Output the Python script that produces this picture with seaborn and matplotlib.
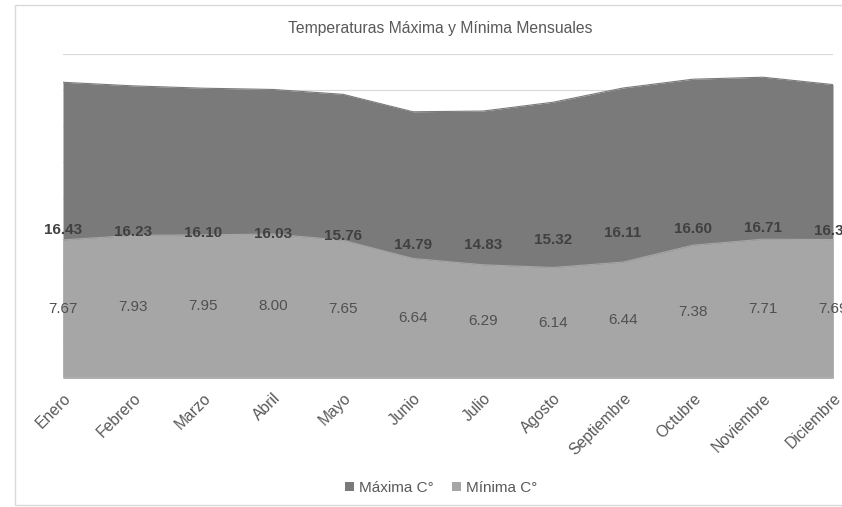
import matplotlib
matplotlib.use("Agg")
import matplotlib.pyplot as plt
from matplotlib.patches import Patch, Rectangle
import numpy as np
import pandas as pd
import seaborn as sns

meses = ["Enero", "Febrero", "Marzo", "Abril", "Mayo", "Junio", "Julio",
         "Agosto", "Septiembre", "Octubre", "Noviembre", "Diciembre"]
maxima = [16.43, 16.23, 16.10, 16.03, 15.76, 14.79, 14.83, 15.32, 16.11, 16.60, 16.71, 16.30]
minima = [7.67, 7.93, 7.95, 8.00, 7.65, 6.64, 6.29, 6.14, 6.44, 7.38, 7.71, 7.69]

titulo = "Temperaturas Máxima y Mínima Mensuales"
serie_max = "Máxima C°"
serie_min = "Mínima C°"

col_max = "#7a7a7a"
col_min = "#a6a6a6"
col_txt = "#595959"

sns.set_theme(style="white")
plt.rcParams["font.family"] = ["Liberation Sans", "DejaVu Sans"]

df = pd.DataFrame({"mes": meses, "idx": np.arange(len(meses)),
                   serie_max: maxima, serie_min: minima})

fig = plt.figure(figsize=(8.42, 5.07), dpi=100)
ax = fig.add_axes([63 / 842, 1 - 378 / 507, (833 - 63) / 842, (378 - 54) / 507])

# chart border
fig.patches.append(Rectangle((15 / 842, 2 / 507), 1.0, 500 / 507, transform=fig.transFigure,
                             fill=False, edgecolor="#d9d9d9", linewidth=1.0, zorder=0))

# horizontal gridlines
for g in np.arange(2, 19, 2):
    ax.axhline(g, color="#d9d9d9", linewidth=0.8, zorder=0)

ax.fill_between(df["idx"], 0, df[serie_max], color=col_max, linewidth=0, zorder=1)
sns.lineplot(data=df, x="idx", y=serie_max, ax=ax, color=col_max, linewidth=0.8, zorder=1)
ax.fill_between(df["idx"], 0, df[serie_min], color=col_min, linewidth=0, zorder=2)
sns.lineplot(data=df, x="idx", y=serie_min, ax=ax, color=col_min, linewidth=0.8, zorder=2)
ax.axhline(0, color="#d9d9d9", linewidth=1.0, zorder=3)

for i, (vmax, vmin) in enumerate(zip(maxima, minima)):
    ax.text(i, vmax / 2, f"{vmax:.2f}", ha="center", va="center", fontsize=11,
            fontweight="bold", color="#404040", zorder=5, clip_on=False)
    ax.text(i, vmin / 2, f"{vmin:.2f}", ha="center", va="center", fontsize=11,
            color="#505050", zorder=5, clip_on=False)

ax.set_xlim(0, len(meses) - 1)
ax.set_ylim(0, 18)
ax.set_xticks(df["idx"])
ax.set_xticklabels(meses, rotation=45, ha="right", rotation_mode="anchor",
                   fontsize=11.3, color=col_txt)
ax.tick_params(axis="x", length=0, pad=9)
ax.set_yticks([])
ax.set_xlabel("")
ax.set_ylabel("")
for s in ax.spines.values():
    s.set_visible(False)

fig.text(440 / 842, 1 - 29 / 507, titulo, ha="center", va="center",
         fontsize=11.3, color=col_txt)

handles = [Patch(facecolor=col_max, edgecolor="none", label=serie_max),
           Patch(facecolor=col_min, edgecolor="none", label=serie_min)]
fig.legend(handles=handles, loc="center", bbox_to_anchor=(441 / 842, 1 - 488 / 507),
           ncol=2, frameon=False, fontsize=11, labelcolor=col_txt,
           handlelength=0.6, handleheight=0.6, handletextpad=0.3, columnspacing=1.2)

fig.savefig("out.png", dpi=100, facecolor="white")
